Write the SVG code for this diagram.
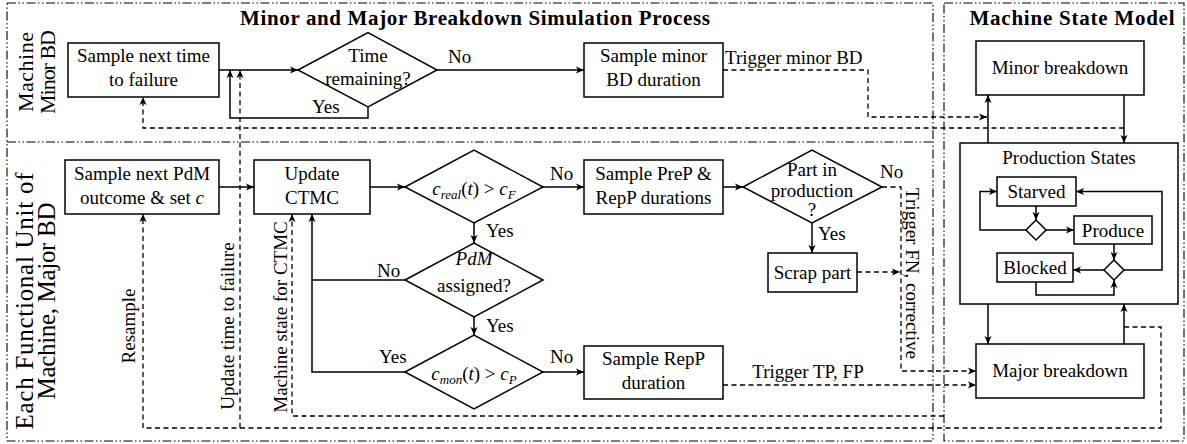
<svg xmlns="http://www.w3.org/2000/svg" width="1187" height="444" viewBox="0 0 1187 444">
<style>
text{font-family:"Liberation Serif","Times New Roman",serif;font-size:19px;fill:#000}
.t{text-anchor:middle}
.b{font-weight:bold;font-size:21px}
.i{font-style:italic}
.box{fill:#fff;stroke:#000;stroke-width:1.5}
.frame{fill:none;stroke:#000;stroke-width:1.1;stroke-dasharray:9 2.5 1.5 2.5 1.5 2.5}
.s{fill:none;stroke:#000;stroke-width:1.5}
.d{fill:none;stroke:#000;stroke-width:1.3;stroke-dasharray:5 3.5}
.a{marker-end:url(#ah)}
</style>
<defs>
<marker id="ah" markerWidth="10" markerHeight="8" refX="8" refY="4" orient="auto" markerUnits="userSpaceOnUse">
<path d="M0,0.5 L8,4 L0,7.5 L2,4 z" fill="#000"/>
</marker>
</defs>
<rect width="1187" height="444" fill="#fff"/>
<g id="frames">
<rect class="frame" x="7" y="3" width="926" height="438"/>
<line class="frame" x1="7" y1="142" x2="933" y2="142"/>
<rect class="frame" x="944" y="3" width="240" height="438"/>
</g>
<g id="titles">
<text class="t b" x="475" y="25" textLength="470">Minor and Major Breakdown Simulation Process</text>
<text class="t b" x="1072" y="25" textLength="205">Machine State Model</text>
</g>
<g id="lane-labels">
<text class="t" font-size="22" transform="translate(33,72) rotate(-90)" textLength="80" style="font-size:22px">Machine</text>
<text class="t" transform="translate(55,72) rotate(-90)" textLength="84" style="font-size:22px">Minor BD</text>
<text class="t" transform="translate(33,301) rotate(-90)" textLength="257" style="font-size:25px">Each Functional Unit of</text>
<text class="t" transform="translate(55,301) rotate(-90)" textLength="197" style="font-size:25px">Machine, Major BD</text>
</g>
<g id="connectors">
<path class="s a" d="M219,70 H298"/>
<path class="s a" d="M368,107 V118 H230 V70"/>
<path class="s a" d="M437,70 H584"/>
<path class="s a" d="M988,143 V95"/>
<path class="s a" d="M1124,95 V143"/>
<path class="s a" d="M219,187 H254"/>
<path class="s a" d="M370,187 H405"/>
<path class="s a" d="M543,187 H584"/>
<path class="s a" d="M723,187 H743"/>
<path class="s a" d="M474,223 V243"/>
<path class="s a" d="M474,317 V335"/>
<path class="s a" d="M543,372 H584"/>
<path class="s a" d="M405,372 H312 V214"/>
<path class="s" d="M405,280 H312"/>
<path class="s a" d="M812,223 V253"/>
<path class="s a" d="M988,304 V344"/>
<path class="s a" d="M1124,344 V304"/>
<path class="d a" d="M723,70 H868 V117 H987"/>
<path class="d a" d="M1124,128 H143 V97"/>
<path class="d a" d="M1124,327 H1161 V428 H143 V214"/>
<path class="d a" d="M240,428 V70"/>
<path class="d a" d="M944,416 H292 V214"/>
<path class="d a" d="M882,187 H901 V371 H976"/>
<path class="d a" d="M857,272 H900"/>
<path class="d a" d="M723,385 H976"/>
</g>
<g id="connector-labels">
<text x="448" y="63">No</text>
<text x="312" y="113">Yes</text>
<text x="725" y="64">Trigger minor BD</text>
<text x="550" y="180">No</text>
<text x="486" y="237">Yes</text>
<text x="377" y="277">No</text>
<text x="486" y="332">Yes</text>
<text x="379" y="363">Yes</text>
<text x="550" y="363">No</text>
<text x="880" y="178">No</text>
<text x="818" y="240">Yes</text>
<text class="t" x="808" y="378">Trigger TP, FP</text>
<text class="t" transform="translate(135,326) rotate(-90)">Resample</text>
<text class="t" transform="translate(234,326) rotate(-90)">Update time to failure</text>
<text class="t" transform="translate(287,317) rotate(-90)">Machine state for CTMC</text>
<text class="t" transform="translate(906,273.5) rotate(90)">Trigger FN, corrective</text>
</g>
<g id="n-sample-ttf">
<rect class="box" x="68" y="43" width="151" height="54"/>
<text class="t" x="143.5" y="62">Sample next time</text>
<text class="t" x="143.5" y="86">to failure</text>
</g>
<g id="n-time-remaining">
<polygon class="box" points="298,70 368,32.5 437,70 368,107"/>
<text class="t" x="368" y="62">Time</text>
<text class="t" x="368" y="85">remaining?</text>
</g>
<g id="n-sample-minor">
<rect class="box" x="584" y="43" width="139" height="54"/>
<text class="t" x="653.5" y="62">Sample minor</text>
<text class="t" x="653.5" y="86">BD duration</text>
</g>
<g id="n-sample-pdm">
<rect class="box" x="65" y="160" width="154" height="54"/>
<text class="t" x="142" y="180">Sample next PdM</text>
<text class="t" x="142" y="204">outcome &amp; set <tspan class="i">c</tspan></text>
</g>
<g id="n-ctmc">
<rect class="box" x="254" y="160" width="116" height="54"/>
<text class="t" x="312" y="180">Update</text>
<text class="t" x="312" y="204">CTMC</text>
</g>
<g id="n-creal">
<polygon class="box" points="405,187 474,150 543,187 474,223"/>
<text class="t" x="474" y="195"><tspan class="i">c</tspan><tspan class="i" style="font-size:13px" dy="4">real</tspan><tspan dy="-4">(</tspan><tspan class="i">t</tspan>) &gt; <tspan class="i">c</tspan><tspan class="i" style="font-size:13px" dy="4">F</tspan></text>
</g>
<g id="n-sample-prep">
<rect class="box" x="584" y="160" width="139" height="54"/>
<text class="t" x="653.5" y="180">Sample PreP &amp;</text>
<text class="t" x="653.5" y="204">RepP durations</text>
</g>
<g id="n-part-in-production">
<polygon class="box" points="743,187 812,150 882,187 812,223"/>
<text class="t" x="812" y="176">Part in</text>
<text class="t" x="812" y="197">production</text>
<text class="t" x="812" y="216">?</text>
</g>
<g id="n-scrap">
<rect class="box" x="768" y="253" width="89" height="39"/>
<text class="t" x="812.5" y="279">Scrap part</text>
</g>
<g id="n-pdm-assigned">
<polygon class="box" points="405,280 474,243 543,280 474,317"/>
<text class="t i" x="474" y="265">PdM</text>
<text class="t" x="474" y="292">assigned?</text>
</g>
<g id="n-cmon">
<polygon class="box" points="405,372 474,335 543,372 474,409"/>
<text class="t" x="474" y="380"><tspan class="i">c</tspan><tspan class="i" style="font-size:13px" dy="4">mon</tspan><tspan dy="-4">(</tspan><tspan class="i">t</tspan>) &gt; <tspan class="i">c</tspan><tspan class="i" style="font-size:13px" dy="4">P</tspan></text>
</g>
<g id="n-sample-repp">
<rect class="box" x="584" y="346" width="139" height="53"/>
<text class="t" x="653.5" y="365">Sample RepP</text>
<text class="t" x="653.5" y="389">duration</text>
</g>
<g id="n-minor-breakdown">
<rect class="box" x="976" y="41" width="168" height="54"/>
<text class="t" x="1060" y="74">Minor breakdown</text>
</g>
<g id="n-production-states">
<rect class="box" x="960" y="143" width="218" height="161"/>
<text class="t" x="1069" y="164">Production States</text>
<g id="n-starved">
<rect class="box" x="997" y="177" width="79" height="29"/>
<text class="t" x="1036.5" y="198">Starved</text>
</g>
<g id="n-produce">
<rect class="box" x="1074" y="216" width="78" height="28"/>
<text class="t" x="1113" y="237">Produce</text>
</g>
<g id="n-blocked">
<rect class="box" x="997" y="253" width="76" height="29"/>
<text class="t" x="1035" y="274">Blocked</text>
</g>
<polygon id="n-decision-1" class="box" points="1036,220 1046,230 1036,240 1026,230"/>
<polygon id="n-decision-2" class="box" points="1114,260 1124,270 1114,280 1104,270"/>
<g id="state-connectors">
<path class="s a" d="M1036,206 V220"/>
<path class="s a" d="M1026,230 H980 V191.5 H997"/>
<path class="s a" d="M1046,230 H1074"/>
<path class="s a" d="M1114,244 V260"/>
<path class="s a" d="M1124,270 H1162 V191.5 H1076"/>
<path class="s a" d="M1104,270 H1073"/>
<path class="s a" d="M1036,282 V295 H1114 V280"/>
</g>
</g>
<g id="n-major-breakdown">
<rect class="box" x="976" y="344" width="168" height="54"/>
<text class="t" x="1060" y="377">Major breakdown</text>
</g>
</svg>
